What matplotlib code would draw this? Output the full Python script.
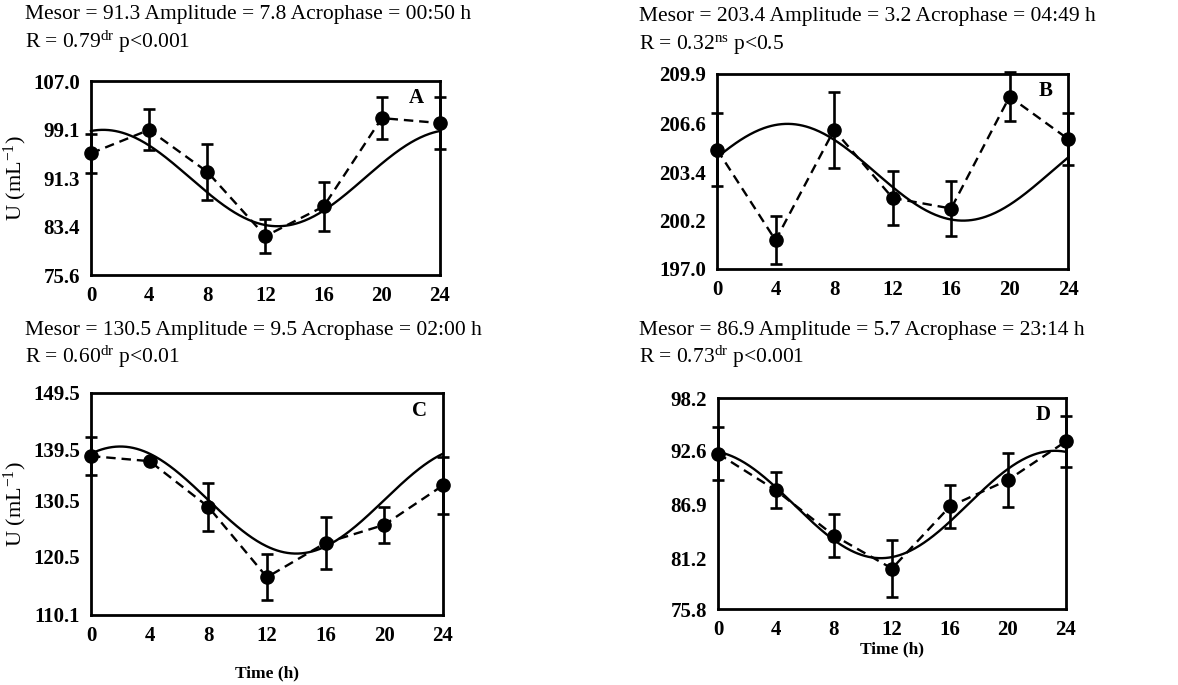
import numpy as np
import matplotlib
matplotlib.use("Agg")
import matplotlib.pyplot as plt

plt.rcParams['font.family'] = ['Liberation Serif', 'DejaVu Serif']
plt.rcParams['mathtext.fontset'] = 'custom'
plt.rcParams['mathtext.rm'] = 'Liberation Serif'
plt.rcParams['mathtext.it'] = 'Liberation Serif:italic'
plt.rcParams['mathtext.bf'] = 'Liberation Serif:bold'

# sampling times (h)
times = [0, 4, 8, 12, 16, 20, 24]

# observed means and errors for each panel
mean_a = [95.3, 99.1, 92.3, 81.9, 86.7, 101.0, 100.2]
err_a = [3.2, 3.3, 4.5, 2.8, 4.0, 3.4, 4.2]
mean_b = [204.9, 198.9, 206.2, 201.7, 201.0, 208.4, 205.6]
err_b = [2.4, 1.6, 2.5, 1.8, 1.8, 1.6, 1.7]
mean_c = [138.3, 137.4, 129.3, 116.8, 122.9, 126.1, 133.1]
err_c = [3.4, 0.0, 4.3, 4.1, 4.6, 3.2, 5.1]
mean_d = [92.3, 88.4, 83.6, 80.1, 86.7, 89.5, 93.6]
err_d = [2.8, 1.9, 2.3, 3.0, 2.3, 2.9, 2.7]

# cosinor parameters
mesor = [91.3, 203.4, 130.5, 86.9]
amplitude = [7.8, 3.2, 9.5, 5.7]
acrophase = [50 / 60, 4 + 49 / 60, 2.0, 23 + 14 / 60]
acro_text = ['00:50', '04:49', '02:00', '23:14']
r_value = ['0.79', '0.32', '0.60', '0.73']
r_sig = ['dr', 'ns', 'dr', 'dr']
p_text = ['p<0.001', 'p<0.5', 'p<0.01', 'p<0.001']

yticks_a = [75.6, 83.4, 91.3, 99.1, 107.0]
yticks_b = [197.0, 200.2, 203.4, 206.6, 209.9]
yticks_c = [110.1, 120.5, 130.5, 139.5, 149.5]
yticks_d = [75.8, 81.2, 86.9, 92.6, 98.2]
letters = ['A', 'B', 'C', 'D']

fig = plt.figure(figsize=(11.78, 6.85), dpi=100)

# axes rectangles [left, bottom, width, height]
rects = [
    [0.0772, 0.5985, 0.2963, 0.2832],
    [0.6087, 0.6073, 0.2980, 0.2847],
    [0.0772, 0.1022, 0.2988, 0.3241],
    [0.6095, 0.1109, 0.2954, 0.3080],
]
title_pos = [(25, 15, 42), (639, 16, 45), (25, 330, 357), (639, 330, 357)]

means = [mean_a, mean_b, mean_c, mean_d]
errs = [err_a, err_b, err_c, err_d]
yticks = [yticks_a, yticks_b, yticks_c, yticks_d]

W, H = 1178, 685
tfine = np.linspace(0, 24, 300)

for i in range(4):
    ax = fig.add_axes(rects[i])
    fit = mesor[i] + amplitude[i] * np.cos(2 * np.pi * (tfine - acrophase[i]) / 24)
    ax.plot(tfine, fit, color='black', lw=1.7, clip_on=False)
    ax.errorbar(times, means[i], yerr=errs[i], fmt='o', color='black',
                ms=9.5, capsize=4, elinewidth=1.9, capthick=1.9, clip_on=False, zorder=3)
    ax.plot(times, means[i], color='black', lw=1.7, dashes=(4, 2.5), zorder=2)

    ax.set_xlim(0, 24)
    ax.set_ylim(yticks[i][0], yticks[i][-1])
    ax.set_xticks([0, 4, 8, 12, 16, 20, 24])
    ax.set_yticks(yticks[i])
    ax.set_yticklabels([f'{v:.1f}' for v in yticks[i]])
    ax.tick_params(length=0, labelsize=15, pad=8)
    for lab in ax.get_xticklabels() + ax.get_yticklabels():
        lab.set_fontweight('bold')
    for s in ax.spines.values():
        s.set_linewidth(2)

    ax.text(0.955, 0.965, letters[i], transform=ax.transAxes, ha='right', va='top',
            fontsize=15, fontweight='bold')

    x0, y1, y2 = title_pos[i]
    fig.text(x0 / W, 1 - y1 / H,
             f'Mesor = {mesor[i]} Amplitude = {amplitude[i]} Acrophase = {acro_text[i]} h',
             fontsize=15.5, va='center', ha='left')
    fig.text(x0 / W, 1 - y2 / H,
             f'R = {r_value[i]}$^{{\\mathrm{{{r_sig[i]}}}}}$ {p_text[i]}',
             fontsize=15.5, va='center', ha='left')

    if i in (0, 2):
        ax.set_ylabel('U (mL$^{-1}$)', fontsize=16, labelpad=3)
    if i == 2:
        ax.set_xlabel('Time (h)', fontsize=12.5, fontweight='bold', labelpad=14)
    if i == 3:
        ax.set_xlabel('Time (h)', fontsize=12.5, fontweight='bold', labelpad=1)

fig.savefig('out.png', dpi=100)
